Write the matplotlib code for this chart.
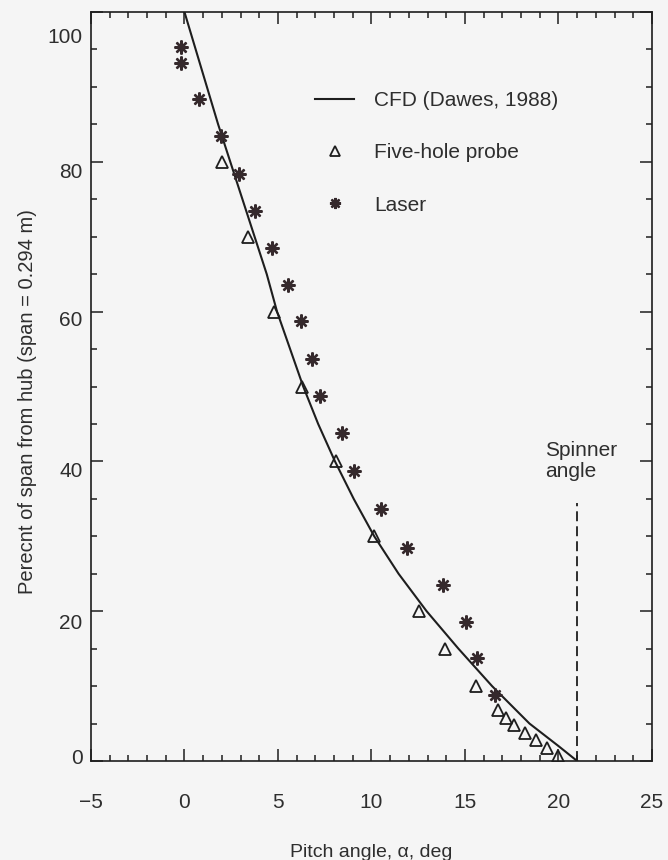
import matplotlib
matplotlib.use('Agg')
import matplotlib.pyplot as plt
from matplotlib.ticker import MultipleLocator

plt.rcParams['font.family'] = ['Liberation Sans', 'DejaVu Sans']

# ---------------- data ----------------
cfd_angle = [0.0, 0.6, 1.2, 1.8, 2.45, 3.1, 3.75, 4.4, 4.95, 5.65, 6.35, 7.15,
             8.05, 9.05, 10.15, 11.45, 12.95, 14.65, 16.45, 18.45, 20.0, 21.0]
cfd_span = [100, 95, 90, 85, 80, 75, 70, 65, 60, 55, 50, 45,
            40, 35, 30, 25, 20, 15, 10, 5, 2, 0]

probe_angle = [2.0, 3.42, 4.8, 6.28, 8.12, 10.14, 12.53, 13.95, 15.58,
               16.77, 17.2, 17.6, 18.2, 18.8, 19.4, 20.0]
probe_span = [80, 70, 60, 50, 40, 30, 20, 15, 10,
              6.8, 5.8, 4.8, 3.8, 2.8, 1.8, 0.7]

laser_angle = [-0.2, -0.2, 0.77, 1.96, 2.92, 3.79, 4.66, 5.53, 6.22, 6.83,
               7.25, 8.45, 9.04, 10.5, 11.89, 13.84, 15.05, 15.64, 16.63]
laser_span = [95.3, 93.2, 88.4, 83.5, 78.4, 73.4, 68.5, 63.6, 58.7, 53.7,
              48.7, 43.8, 38.7, 33.6, 28.5, 23.5, 18.6, 13.7, 8.8]

spinner_angle = 21.0
spinner_top = 34.5

x_ticks = [-5, 0, 5, 10, 15, 20, 25]
x_tick_labels = ['\u22125', '0', '5', '10', '15', '20', '25']
y_ticks = [0, 20, 40, 60, 80, 100]
y_tick_labels = ['0', '20', '40', '60', '80', '100']

series_labels = ['CFD (Dawes, 1988)', 'Five-hole probe', 'Laser']

# ---------------- style ----------------
bg = '#f5f5f5'
ink = '#1e1e1e'
txt = '#2e2e2e'
y_label_offsets = [2.0, -8.5, -7.0, -6.5, -7.5, -18.0]   # points

fig = plt.figure(figsize=(6.68, 8.6), dpi=100, facecolor=bg)
ax = fig.add_axes([0.1362, 0.1151, 0.8398, 0.8709], facecolor=bg)

ax.plot(cfd_angle, cfd_span, color=ink, lw=1.5, label=series_labels[0], zorder=2)
ax.plot(probe_angle, probe_span, ls='none', marker='^', ms=8.5, mfc='none',
        mec=ink, mew=1.3, label=series_labels[1], zorder=3)
ax.plot(laser_angle, laser_span, ls='none', marker=(8, 2, 0), ms=10,
        mec='#35292c', mew=1.7, label=series_labels[2], zorder=3)
ax.vlines(spinner_angle, 0, spinner_top, colors=ink, lw=1.3,
          linestyles=(0, (5.5, 2.8)), zorder=2)

ax.text(19.3, 42.7, 'Spinner\nangle', fontsize=15, color=txt, ha='left',
        va='top', linespacing=1.15)

ax.set_xlim(-5, 25)
ax.set_ylim(0, 100)
ax.set_xticks(x_ticks)
ax.set_xticklabels(x_tick_labels, fontsize=15, color=txt)
ax.xaxis.set_minor_locator(MultipleLocator(1))
ax.set_yticks(y_ticks)
ax.yaxis.set_minor_locator(MultipleLocator(5))
ax.tick_params(which='both', direction='in', top=True, right=True,
               color=ink, width=1.1)
ax.tick_params(which='major', length=8.5)
ax.tick_params(which='minor', length=4.3)
ax.tick_params(axis='x', which='major', pad=23)
ax.tick_params(axis='y', labelleft=False)

for v, lab, dy in zip(y_ticks, y_tick_labels, y_label_offsets):
    ax.annotate(lab, xy=(0, v), xycoords=('axes fraction', 'data'),
                xytext=(-6, dy), textcoords='offset points',
                ha='right', va='center', fontsize=15, color=txt)

for s in ax.spines.values():
    s.set_color(ink)
    s.set_linewidth(1.2)

ax.set_xlabel('Pitch angle, \u03b1, deg', fontsize=14, color=txt)
ax.xaxis.set_label_coords(0.5, -0.111)
ax.set_ylabel('Perecnt of span from hub (span = 0.294 m)', fontsize=14.5, color=txt)
ax.yaxis.set_label_coords(-0.096, 0.48)

leg = ax.legend(loc='center left', bbox_to_anchor=(0.40, 0.812), frameon=False,
                fontsize=15, handlelength=1.87, handletextpad=0.96,
                labelspacing=1.6, borderpad=0, borderaxespad=0,
                markerscale=0.8)
for t in leg.get_texts():
    t.set_color(txt)

fig.savefig('out.png', dpi=100, facecolor=bg)
